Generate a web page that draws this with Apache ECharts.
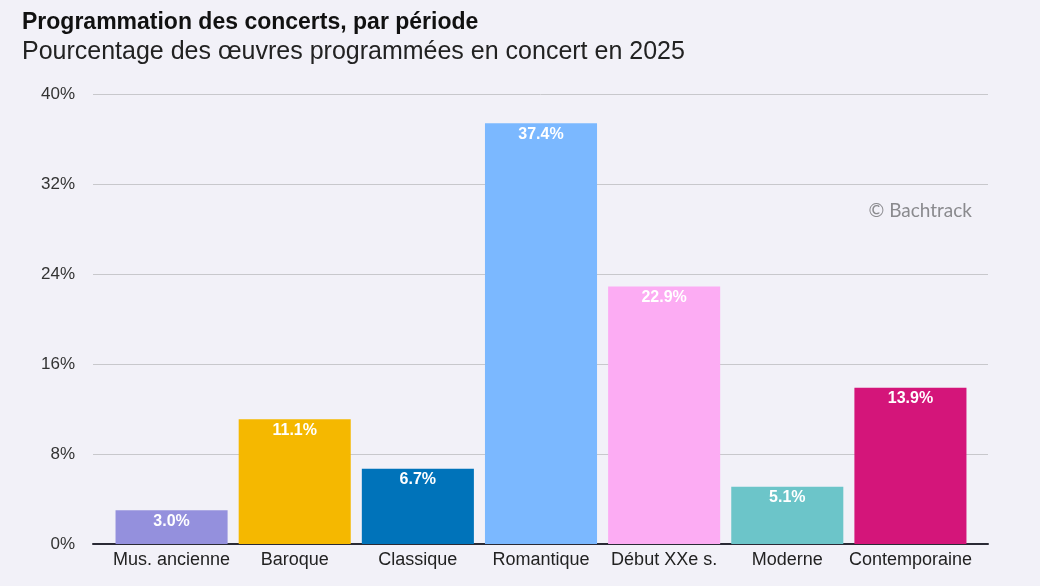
<!DOCTYPE html>
<html>
<head>
<meta charset="utf-8">
<script src="https://cdn.jsdelivr.net/npm/echarts@6/dist/echarts.min.js"></script>
<style>
  html, body { margin: 0; padding: 0; background: #f2f1f8; }
  #chart { width: 1040px; height: 586px; }
</style>
</head>
<body>
<div id="chart"></div>
<script>
var periodes = ['Mus. ancienne', 'Baroque', 'Classique', 'Romantique', 'Début XXe s.', 'Moderne', 'Contemporaine'];
var pourcentages = [3.0, 11.1, 6.7, 37.4, 22.9, 5.1, 13.9];
var couleurs = ['#9490dd', '#f5b800', '#0073ba', '#7bb8ff', '#fcacf3', '#6cc5c9', '#d4157a'];

var chart = echarts.init(document.getElementById('chart'));

chart.setOption({
    backgroundColor: '#f2f1f8',
    animation: false,
    title: [{
        text: 'Programmation des concerts, par période',
        left: 17, top: 6,
        textStyle: { fontFamily: 'Liberation Sans', fontSize: 23, fontWeight: 'bold', color: '#111' }
    }, {
        text: 'Pourcentage des œuvres programmées en concert en 2025',
        left: 17, top: 35,
        textStyle: { fontFamily: 'Liberation Sans', fontSize: 25, fontWeight: 'normal', color: '#222' }
    }],
    graphic: [{
        type: 'text',
        right: 68, top: 201,
        style: { text: '© Bachtrack', fontFamily: 'Lato', fontSize: 19, fill: '#8a8a8e' }
    }],
    // grille extérieure : lignes de repère et axe ; grille intérieure : barres
    grid: [
        { left: 93, right: 52, top: 94, bottom: 42 },
        { left: 110, right: 68, top: 94, bottom: 42 }
    ],
    xAxis: [{
        type: 'value', gridIndex: 0, min: 0, max: 1,
        axisLabel: { show: false },
        axisTick: { show: false },
        splitLine: { show: false },
        axisLine: { show: true, onZero: false, lineStyle: { color: '#2a2a35', width: 2 } }
    }, {
        type: 'category', gridIndex: 1,
        data: periodes,
        axisTick: { show: false },
        axisLine: { show: false },
        axisLabel: { interval: 0, fontFamily: 'Liberation Sans', fontSize: 18, color: '#222', margin: 7 }
    }],
    yAxis: [{
        type: 'value', gridIndex: 0,
        min: 0, max: 40, interval: 8,
        axisLine: { show: false },
        axisTick: { show: false },
        axisLabel: {
            formatter: '{value}%',
            fontFamily: 'Liberation Sans', fontSize: 17, color: '#333', margin: 18
        },
        splitLine: { lineStyle: { color: '#c8c8cc', width: 1 } }
    }, {
        type: 'value', gridIndex: 1,
        min: 0, max: 40, interval: 8,
        show: false,
        splitLine: { show: false }
    }],
    series: [{
        type: 'bar',
        xAxisIndex: 1, yAxisIndex: 1,
        barCategoryGap: '9%',
        data: pourcentages.map(function (v, i) {
            return { value: v, itemStyle: { color: couleurs[i] } };
        }),
        label: {
            show: true,
            position: 'insideTop',
            distance: 3,
            formatter: function (p) { return p.value.toFixed(1) + '%'; },
            fontFamily: 'Liberation Sans', fontSize: 16, fontWeight: 'bold', color: '#fff'
        }
    }]
});
</script>
</body>
</html>
